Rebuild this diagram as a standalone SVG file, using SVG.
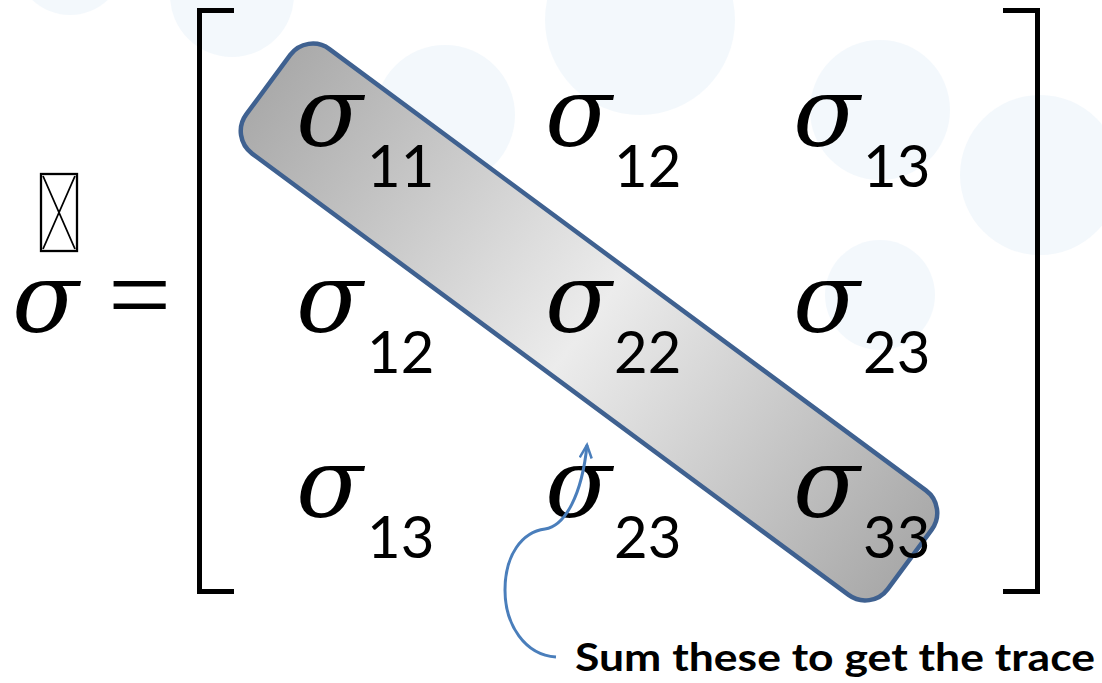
<svg xmlns="http://www.w3.org/2000/svg" width="1102" height="683" viewBox="0 0 1102 683">
<style>
.sig{font-family:"DejaVu Serif",serif;font-style:italic;font-size:98px;fill:#000}
.sub{font-family:Lato,"Liberation Sans",sans-serif;font-size:58px;fill:#000}
.br{fill:none;stroke:#000;stroke-width:5}
.wm{fill:#e8f2f9;opacity:0.5}
</style>
<defs>
<linearGradient id="g" x1="0" y1="0" x2="1" y2="0">
<stop offset="0" stop-color="#aaaaaa"/>
<stop offset="0.5" stop-color="#ececec"/>
<stop offset="1" stop-color="#a9a9a9"/>
</linearGradient>
<marker id="ah" markerUnits="userSpaceOnUse" markerWidth="20" markerHeight="20" refX="14" refY="7" orient="auto">
<path d="M1,1 L14,7 L1,13" fill="none" stroke="#4a7ebb" stroke-width="2.5"/>
</marker>
</defs>
<rect width="1102" height="683" fill="#fff"/>
<g id="watermark">
<circle class="wm" cx="640" cy="20" r="95"/>
<circle class="wm" cx="445" cy="115" r="70"/>
<circle class="wm" cx="1040" cy="175" r="80"/>
<circle class="wm" cx="880" cy="295" r="55"/>
<circle class="wm" cx="232" cy="-5" r="62"/>
<circle class="wm" cx="70" cy="-40" r="55"/>
<circle class="wm" cx="880" cy="110" r="70"/>
</g>
<g id="lhs">
<rect x="41" y="174" width="36" height="77" fill="none" stroke="#000" stroke-width="2.3"/>
<path d="M43,176 L75,249 M75,176 L43,249" stroke="#000" stroke-width="1.8"/>
<text class="sig" x="12" y="332">σ</text>
<text x="108" y="332" font-family="Liberation Serif,serif" font-size="112">=</text>
</g>
<g id="brackets">
<path class="br" d="M234,10.5 H199.5 V591.5 H234"/>
<path class="br" d="M1003,10.5 H1037.5 V591.5 H1003"/>
</g>
<g id="trace-box">
<rect x="-399" y="-65" width="798" height="130" rx="28" fill="url(#g)" stroke="#3f6190" stroke-width="4.5" transform="translate(589,322) rotate(36.5)"/>
</g>
<g id="matrix">
<text class="sig" x="296" y="146">σ</text><text class="sub" x="367" y="187">11</text>
<text class="sig" x="545" y="146">σ</text><text class="sub" x="614" y="187">12</text>
<text class="sig" x="793" y="146">σ</text><text class="sub" x="863" y="187">13</text>
<text class="sig" x="296" y="332">σ</text><text class="sub" x="367" y="373">12</text>
<text class="sig" x="545" y="332">σ</text><text class="sub" x="614" y="373">22</text>
<text class="sig" x="793" y="332">σ</text><text class="sub" x="863" y="373">23</text>
<text class="sig" x="296" y="517">σ</text><text class="sub" x="367" y="558">13</text>
<text class="sig" x="545" y="517">σ</text><text class="sub" x="614" y="558">23</text>
<text class="sig" x="793" y="517">σ</text><text class="sub" x="863" y="558">33</text>
</g>
<g id="connectors">
<path d="M556,657 C525,655 505,625 505,590 C505,555 522,532 545,529 C565,526 582,495 587,445" fill="none" stroke="#4a7ebb" stroke-width="3" marker-end="url(#ah)"/>
</g>
<g id="label">
<text x="575" y="671" font-family="Lato,'Liberation Sans',sans-serif" font-weight="bold" font-size="39" textLength="520" lengthAdjust="spacingAndGlyphs">Sum these to get the trace</text>
</g>
</svg>
